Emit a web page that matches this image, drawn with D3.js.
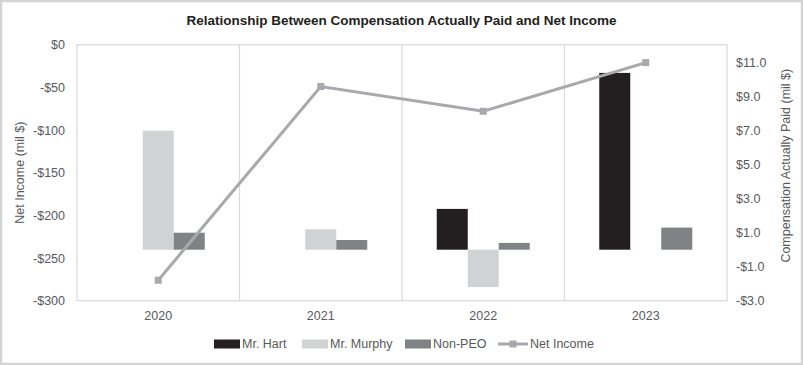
<!DOCTYPE html>
<html>
<head>
<meta charset="utf-8">
<script src="https://cdn.jsdelivr.net/npm/d3@7"></script>
<style>
  body{margin:0;background:#fff;}
  text{font-family:"Liberation Sans",Arial,sans-serif;}
</style>
</head>
<body>
<svg id="svg" width="803" height="365"></svg>
<script>
// chart data
var years=["2020","2021","2022","2023"];
var hart=[0,0,2.4,10.4];
var murphy=[7.0,1.2,-2.2,0];
var nonPeo=[1.0,0.57,0.4,1.3];
var netIncome=[-276,-49,-78,-21];
var leftTicks=[0,-50,-100,-150,-200,-250,-300];
var rightTicks=[11,9,7,5,3,1,-1,-3];
var seriesNames=["Mr. Hart","Mr. Murphy","Non-PEO"];
var seriesColors=["#231f20","#d1d2d4","#808285"];

var W=803,H=365;
var pL=77,pR=727,pT=44.7,pB=300.7;

var svg=d3.select("#svg");

// outer frame
svg.append("rect")
    .attr("x",1).attr("y",1).attr("width",W-2).attr("height",H-2)
    .attr("fill","#fff").attr("stroke","#d4d4d4").attr("stroke-width",2.5)

svg.append("text")
    .attr("x",W/2).attr("y",25)
    .attr("text-anchor","middle")
    .attr("font-size",13.5).attr("font-weight","bold").attr("fill","#231f20")
    .text("Relationship Between Compensation Actually Paid and Net Income")

var x=d3.scaleBand().domain(years).range([pL,pR])
var xs=d3.scaleBand().domain(seriesNames).range([0,93])
var yL=d3.scaleLinear().domain([-300,0]).range([pB,pT])
var yR=d3.scaleLinear().domain([-3,12.06]).range([pB,pT])

// plot frame + category dividers
svg.append("rect")
    .attr("x",pL).attr("y",pT).attr("width",pR-pL).attr("height",pB-pT)
    .attr("fill","none").attr("stroke","#d9d9d9").attr("stroke-width",1.2)
svg.selectAll(".divider")
    .data(years.slice(1))
    .enter().append("line")
        .attr("class","divider")
        .attr("x1",d=>x(d)).attr("x2",d=>x(d))
        .attr("y1",pT).attr("y2",pB)
        .attr("stroke","#d9d9d9").attr("stroke-width",1.2)

// axes
var axL=svg.append("g")
        .attr("transform","translate("+(pL-12)+",0)")
    .call(d3.axisLeft(yL).tickValues(leftTicks).tickSize(0).tickPadding(0)
        .tickFormat(d=>(d<0?"-":"")+"$"+Math.abs(d)))
var axR=svg.append("g")
        .attr("transform","translate("+(pR+9)+",0)")
    .call(d3.axisRight(yR).tickValues(rightTicks).tickSize(0).tickPadding(0)
        .tickFormat(d=>(d<0?"-":"")+"$"+Math.abs(d).toFixed(1)))
var axX=svg.append("g")
        .attr("transform","translate(0,"+(pB+10)+")")
    .call(d3.axisBottom(x).tickSize(0).tickPadding(0))
;[axL,axR,axX].forEach(a=>{
    a.select(".domain").remove()
    a.selectAll("text").attr("font-size",12.5).attr("fill","#58595b")
        .style("font-family","'Liberation Sans',Arial,sans-serif")
})
axX.selectAll("text").attr("dy","0.71em")

svg.append("text")
    .attr("transform","translate(24,"+((pT+pB)/2)+") rotate(-90)")
    .attr("text-anchor","middle").attr("font-size",12.5).attr("fill","#58595b")
    .text("Net Income (mil $)")
svg.append("text")
    .attr("transform","translate(790,"+((pT+pB)/2-7)+") rotate(-90)")
    .attr("text-anchor","middle").attr("font-size",12.5).attr("fill","#58595b")
    .text("Compensation Actually Paid (mil $)")

// bars
var series=[hart,murphy,nonPeo];
var barData=[];
years.forEach((yr,i)=>series.forEach((s,j)=>{
    if (s[i]!==0) barData.push({year:yr,name:seriesNames[j],v:s[i],c:seriesColors[j]})
}))
var off=(x.bandwidth()-93)/2;
svg.selectAll(".bar")
    .data(barData)
    .enter().append("rect")
        .attr("class","bar")
        .attr("x",d=>x(d.year)+off+xs(d.name))
        .attr("width",xs.bandwidth())
        .attr("y",d=>yR(Math.max(0,d.v)))
        .attr("height",d=>Math.abs(yR(d.v)-yR(0)))
        .attr("fill",d=>d.c)

// net income line
var line=d3.line().x((d,i)=>x(years[i])+x.bandwidth()/2).y(d=>yL(d))
svg.append("path")
    .datum(netIncome)
    .attr("d",line)
    .attr("fill","none").attr("stroke","#a7a9ac").attr("stroke-width",3)
svg.selectAll(".pt")
    .data(netIncome)
    .enter().append("rect")
        .attr("class","pt")
        .attr("x",(d,i)=>x(years[i])+x.bandwidth()/2-3.5)
        .attr("y",d=>yL(d)-3.5)
        .attr("width",7).attr("height",7)
        .attr("fill","#a7a9ac")

// legend
var legendItems=[
    {name:"Mr. Hart",c:seriesColors[0],x:214,type:"bar"},
    {name:"Mr. Murphy",c:seriesColors[1],x:302,type:"bar"},
    {name:"Non-PEO",c:seriesColors[2],x:405,type:"bar"},
    {name:"Net Income",c:"#a7a9ac",x:498,type:"line"}
];
var lg=svg.selectAll(".lg")
    .data(legendItems)
    .enter().append("g")
        .attr("class","lg")
        .attr("transform",d=>"translate("+d.x+",344)")
lg.filter(d=>d.type=="bar").append("rect")
    .attr("x",0).attr("y",-4.5).attr("width",26).attr("height",9)
    .attr("fill",d=>d.c)
lg.filter(d=>d.type=="line").append("line")
    .attr("x1",0).attr("x2",30).attr("y1",0).attr("y2",0)
    .attr("stroke",d=>d.c).attr("stroke-width",3)
lg.filter(d=>d.type=="line").append("rect")
    .attr("x",11.5).attr("y",-3.5).attr("width",7).attr("height",7)
    .attr("fill",d=>d.c)
lg.append("text")
    .attr("x",d=>d.type=="line"?32:28).attr("y",0).attr("dy","0.35em")
    .attr("font-size",12.5).attr("fill","#58595b")
    .text(d=>d.name)
</script>
</body>
</html>
